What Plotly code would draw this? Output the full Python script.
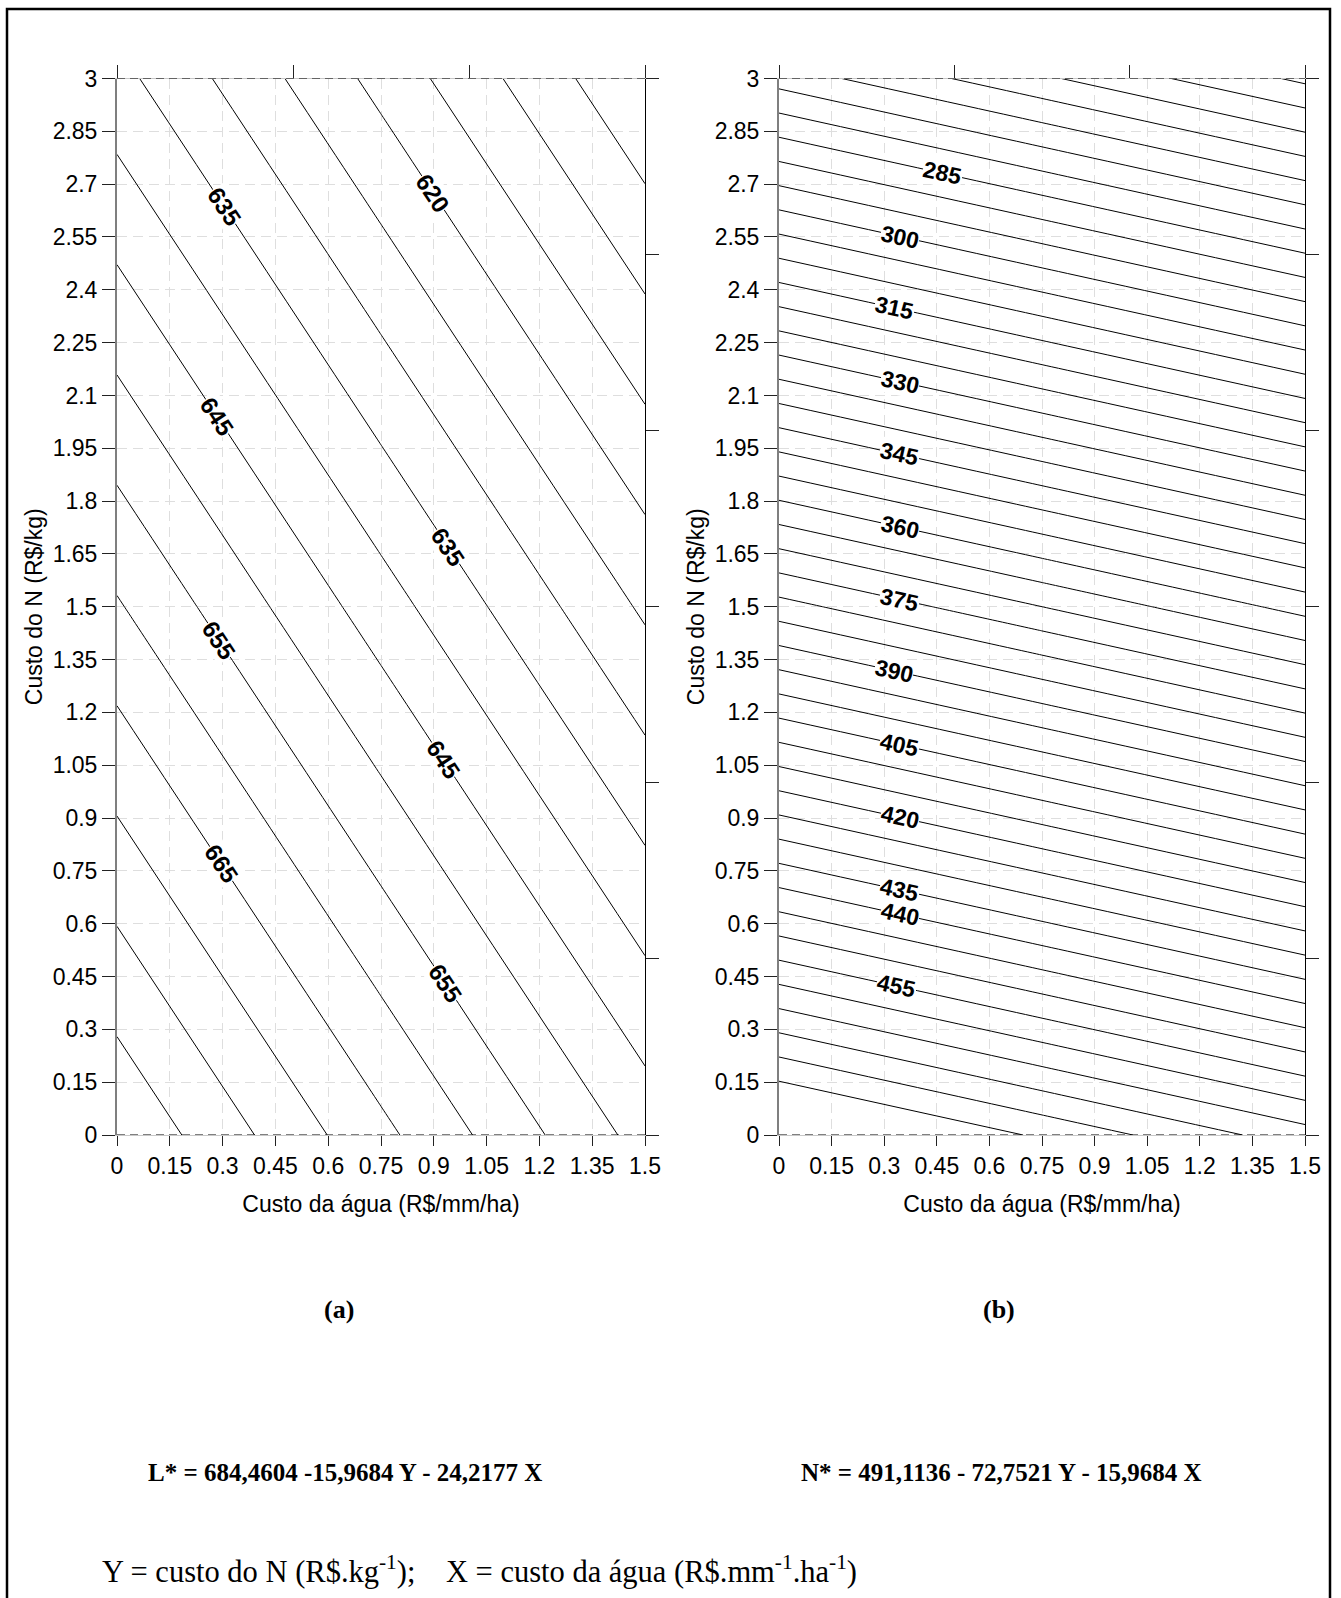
import plotly.graph_objects as go

# ---------------- data ----------------
# grid of the response surfaces
grid_x = [0.0, 0.75, 1.5]          # Custo da água (R$/mm/ha)
grid_y = [0.0, 1.5, 3.0]           # Custo do N (R$/kg)
z_L = [[684.46, 666.30, 648.13],   # L* values, rows = grid_y
       [660.51, 642.34, 624.18],
       [636.56, 618.39, 600.23]]
z_N = [[491.11, 479.14, 467.16],   # N* values, rows = grid_y
       [381.99, 370.01, 358.03],
       [272.86, 260.88, 248.91]]

levels_L = dict(start=605, end=680, size=5)
levels_N = dict(start=250, end=480, size=5)

# contour labels
lab_a_text = ["635", "620", "645", "635", "655", "645", "665", "655"]
lab_a_x = [0.3045, 0.898, 0.284, 0.9415, 0.290, 0.927, 0.296, 0.933]
lab_a_y = [2.6356, 2.6748, 2.0404, 1.6695, 1.4051, 1.0653, 0.7698, 0.4299]

lab_b_text = ["285", "300", "315", "330", "345", "360", "375", "390",
              "405", "420", "435", "440", "455"]
lab_b_x = [0.467, 0.345, 0.330, 0.345, 0.345, 0.345, 0.345, 0.327,
           0.345, 0.345, 0.345, 0.345, 0.336]
lab_b_y = [2.7306, 2.5512, 2.3483, 2.1388, 1.9326, 1.7265, 1.5203, 1.3181,
           1.1079, 0.9018, 0.6956, 0.6269, 0.4226]

tick_vals_x = [0, 0.15, 0.3, 0.45, 0.6, 0.75, 0.9, 1.05, 1.2, 1.35, 1.5]
tick_text_x = ["0", "0.15", "0.3", "0.45", "0.6", "0.75", "0.9", "1.05", "1.2", "1.35", "1.5"]
tick_vals_y = [0, 0.15, 0.3, 0.45, 0.6, 0.75, 0.9, 1.05, 1.2, 1.35, 1.5, 1.65, 1.8,
               1.95, 2.1, 2.25, 2.4, 2.55, 2.7, 2.85, 3]
tick_text_y = ["0", "0.15", "0.3", "0.45", "0.6", "0.75", "0.9", "1.05", "1.2", "1.35",
               "1.5", "1.65", "1.8", "1.95", "2.1", "2.25", "2.4", "2.55", "2.7", "2.85", "3"]

x_title = "Custo da água (R$/mm/ha)"
y_title = "Custo do N (R$/kg)"
eq_L = "L* = 684,4604 -15,9684 Y - 24,2177 X"
eq_N = "N* = 491,1136 - 72,7521 Y - 15,9684 X"
footnote = ("Y = custo do N (R$.kg<sup>-1</sup>);\u00a0\u00a0\u00a0\u00a0"
            "X = custo da água (R$.mm<sup>-1</sup>.ha<sup>-1</sup>)")

# ---------------- style ----------------
W, H = 1341, 1598
SANS = "Liberation Sans, Arial, sans-serif"
SERIF = "Liberation Serif, Times New Roman, serif"
ANGLE_A = 56.6
ANGLE_B = 12.4
DOM_Y = [1 - 1135 / H, 1 - 78.5 / H]
DOM_XA = [117 / W, 645 / W]
DOM_XB = [779 / W, 1305 / W]

fig = go.Figure()


def contour(z, lev, xa, ya):
    return go.Contour(
        x=grid_x, y=grid_y, z=z, xaxis=xa, yaxis=ya,
        contours=dict(coloring="none", showlabels=False, **lev),
        line=dict(color="black", width=1, smoothing=0),
        showscale=False, hoverinfo="skip",
    )


fig.add_trace(contour(z_L, levels_L, "x", "y"))
fig.add_trace(contour(z_N, levels_N, "x2", "y2"))
# empty traces to anchor the decorative top / right axes
for xa, ya in [("x3", "y"), ("x", "y3"), ("x4", "y2"), ("x2", "y4")]:
    fig.add_trace(go.Scatter(x=[None], y=[None], xaxis=xa, yaxis=ya,
                             mode="lines", showlegend=False, hoverinfo="skip"))

tickfont = dict(family=SANS, size=23, color="black")
titlefont = dict(family=SANS, size=23, color="black")


def xbottom(domain, anchor):
    return dict(domain=domain, anchor=anchor, range=[0, 1.5], automargin=False,
                tickmode="array", tickvals=tick_vals_x, ticktext=tick_text_x,
                ticks="outside", ticklen=10, tickcolor="#222", tickwidth=1,
                tickfont=tickfont, showline=True, linecolor="#c8c8c8", linewidth=1,
                showgrid=True, gridcolor="#dedede", griddash="10px,6px", gridwidth=1,
                zeroline=False, title=dict(text=x_title, font=titlefont, standoff=18))


def yleft(domain, anchor):
    return dict(domain=domain, anchor=anchor, range=[0, 3], automargin=False,
                tickmode="array", tickvals=tick_vals_y, ticktext=tick_text_y,
                ticks="outside", ticklen=13, tickcolor="#222", tickwidth=1,
                tickfont=tickfont, showline=True, linecolor="#7f7f7f", linewidth=2,
                showgrid=True, gridcolor="#dedede", griddash="10px,6px", gridwidth=1,
                zeroline=False, title=dict(text=y_title, font=titlefont, standoff=4))


def xtop(over, anchor):
    return dict(overlaying=over, anchor=anchor, side="top", range=[0, 1], automargin=False,
                tickmode="array", tickvals=[0, 1 / 3, 2 / 3, 1], ticks="outside",
                ticklen=13, tickcolor="#222", showticklabels=False, showline=True,
                linecolor="#c8c8c8", showgrid=False, zeroline=False)


def yright(over, anchor):
    return dict(overlaying=over, anchor=anchor, side="right", range=[0, 1], automargin=False,
                tickmode="array", tickvals=[0, 1 / 6, 2 / 6, 3 / 6, 4 / 6, 5 / 6, 1],
                ticks="outside", ticklen=13, tickcolor="#222", showticklabels=False,
                showline=True, linecolor="black", linewidth=1, showgrid=False,
                zeroline=False)


fig.update_layout(
    width=W, height=H, margin=dict(l=0, r=0, t=0, b=0, pad=0, autoexpand=False),
    paper_bgcolor="white", plot_bgcolor="white", showlegend=False,
    xaxis=xbottom(DOM_XA, "y"), yaxis=yleft(DOM_Y, "x"),
    xaxis2=xbottom(DOM_XB, "y2"), yaxis2=yleft(DOM_Y, "x2"),
    xaxis3=xtop("x", "y"), yaxis3=yright("y", "x"),
    xaxis4=xtop("x2", "y2"), yaxis4=yright("y2", "x2"),
)

# dashed top / bottom frame lines
shapes = []
for xr, yr in [("x domain", "y"), ("x2 domain", "y2")]:
    for yv in (0, 3):
        shapes.append(dict(type="line", xref=xr, yref=yr, x0=0, x1=1, y0=yv, y1=yv,
                           line=dict(color="black", width=1, dash="8px,5px"), layer="above"))
# outer border (runs off the bottom of the page, as in the original)
shapes.append(dict(type="rect", xref="paper", yref="paper",
                   x0=7 / W, x1=1330 / W, y0=-0.01, y1=1 - 9 / H,
                   line=dict(color="black", width=2.5)))
fig.update_layout(shapes=shapes)

ann = []
for t, x, y in zip(lab_a_text, lab_a_x, lab_a_y):
    ann.append(dict(x=x, y=y, xref="x", yref="y", text="<b>" + t + "</b>", showarrow=False,
                    xanchor="center", yanchor="middle",
                    textangle=ANGLE_A, bgcolor="white", borderpad=0,
                    font=dict(family=SANS, size=24, color="black")))
for t, x, y in zip(lab_b_text, lab_b_x, lab_b_y):
    ann.append(dict(x=x, y=y, xref="x2", yref="y2", text="<b>" + t + "</b>", showarrow=False,
                    xanchor="center", yanchor="middle",
                    textangle=ANGLE_B, bgcolor="white", borderpad=0,
                    font=dict(family=SANS, size=23, color="black")))


def paper_text(x, y, text, font, xanchor="center"):
    return dict(x=x, y=y, xref="paper", yref="paper", text=text, showarrow=False,
                xanchor=xanchor, yanchor="middle", font=font)


bold_serif = dict(family=SERIF, size=26, color="black")
eq_font = dict(family=SERIF, size=25, color="black")
ann.append(paper_text(339 / W, 1 - 1309 / H, "<b>(a)</b>", bold_serif))
ann.append(paper_text(999 / W, 1 - 1309 / H, "<b>(b)</b>", bold_serif))
ann.append(paper_text(345 / W, 1 - 1472 / H, "<b>" + eq_L + "</b>", eq_font))
ann.append(paper_text(1001 / W, 1 - 1472 / H, "<b>" + eq_N + "</b>", eq_font))
ann.append(paper_text(100 / W, 1 - 1569 / H, footnote,
                      dict(family=SERIF, size=30.5, color="black"), xanchor="left"))
fig.update_layout(annotations=ann)

page_css = ("var s=document.createElement('style');"
            "s.textContent='html,body{margin:0;padding:0;overflow:hidden;}';"
            "document.head.appendChild(s);")
fig.write_html("out.html", config={"displayModeBar": False}, post_script=page_css)
